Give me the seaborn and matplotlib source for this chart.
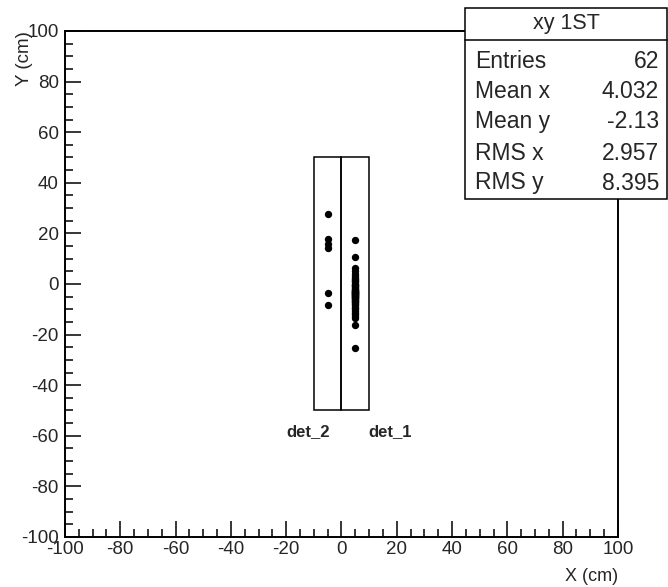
import matplotlib
matplotlib.use("Agg")
import matplotlib.pyplot as plt
import seaborn as sns
import pandas as pd
from matplotlib.patches import Rectangle
from matplotlib.ticker import MultipleLocator

# Hit positions (cm) recorded in each detector
det2_x = -5.0
det2_y = [27.6, 17.7, 16.0, 14.3, -3.4, -8.4]
det1_x = 5.0
det1_y = [17.4, 10.8, 6.5, 5.2, 4.0, 3.1, 2.4, 1.8, 1.5, 1.2, 0.6, 0.1,
          -0.4, -0.5, -0.9, -1.3, -1.7, -2.0, -2.3, -2.5, -2.6, -2.9,
          -3.0, -3.1, -3.3, -3.5, -3.7, -3.9, -4.0, -4.1, -4.3, -4.5,
          -4.7, -4.9, -5.1, -5.3, -5.5, -5.7, -6.0, -6.3, -6.6, -6.9,
          -7.2, -7.6, -8.0, -8.4, -8.9, -9.4, -10.0, -10.6, -11.3, -12.0,
          -12.8, -13.6, -16.3, -25.2]

# Detector outlines: name, x range, y range
det_names = ["det_1", "det_2"]
det_xmin = [0.0, -10.0]
det_xmax = [10.0, 0.0]
det_ymin = [-50.0, -50.0]
det_ymax = [50.0, 50.0]
det_label_x = [17.5, -12.0]
det_label_y = [-58.5, -58.5]

# Statistics panel
stats_title = "xy 1ST"
stats_names = ["Entries", "Mean x", "Mean y", "RMS x", "RMS y"]
stats_values = ["62", "4.032", "-2.13", "2.957", "8.395"]

df = pd.DataFrame({
    "x": [det2_x] * len(det2_y) + [det1_x] * len(det1_y),
    "y": det2_y + det1_y,
})

sns.set_style("white")
plt.rcParams["font.family"] = ["Liberation Sans", "DejaVu Sans"]
plt.rcParams["axes.unicode_minus"] = False

fig = plt.figure(figsize=(6.68, 5.87), dpi=100)
ax = fig.add_axes([0.0973, 0.0852, 0.8278, 0.862])

sns.scatterplot(data=df, x="x", y="y", ax=ax, color="black", s=28,
                edgecolor="black", linewidth=0, zorder=3)

for x0, x1, y0, y1 in zip(det_xmin, det_xmax, det_ymin, det_ymax):
    ax.add_patch(Rectangle((x0, y0), x1 - x0, y1 - y0, fill=False,
                           edgecolor="black", linewidth=1.1, zorder=2))
for name, lx, ly in zip(det_names, det_label_x, det_label_y):
    ax.text(lx, ly, name, ha="center", va="center", fontsize=12,
            fontweight="bold")

ax.set_xlim(-100, 100)
ax.set_ylim(-100, 100)
ax.xaxis.set_major_locator(MultipleLocator(20))
ax.xaxis.set_minor_locator(MultipleLocator(5))
ax.yaxis.set_major_locator(MultipleLocator(20))
ax.yaxis.set_minor_locator(MultipleLocator(5))
ax.tick_params(which="both", direction="in", bottom=True, left=True,
               top=False, right=False, color="black", width=1.1)
ax.tick_params(which="major", length=11.5, labelsize=13.5)
ax.tick_params(which="minor", length=5.5)
ax.tick_params(axis="x", which="major", pad=3)
ax.tick_params(axis="y", which="major", pad=4.5)
for sp in ax.spines.values():
    sp.set_linewidth(1.4)
    sp.set_color("black")

ax.set_xlabel("X (cm)", fontsize=13, loc="right")
ax.xaxis.set_label_coords(1.0, -0.062)
ax.set_ylabel("Y (cm)", fontsize=13.5, loc="top")
ax.yaxis.set_label_coords(-0.058, 1.0)

# Statistics box in the top-right corner
bx0, bx1 = 465 / 668, 667 / 668
by0, by1 = 1 - 199 / 587, 1 - 8 / 587
ysep = 1 - 40 / 587
fig.patches.append(Rectangle((bx0, by0), bx1 - bx0, by1 - by0,
                             transform=fig.transFigure, facecolor="white",
                             edgecolor="black", linewidth=1.1, zorder=5))
fig.add_artist(plt.Line2D([bx0, bx1], [ysep, ysep], transform=fig.transFigure,
                          color="black", linewidth=1.1, zorder=6))
fig.text((bx0 + bx1) / 2, 1 - 23 / 587, stats_title, ha="center",
         va="center", fontsize=15.5, zorder=7)
row_y = [62, 92, 121, 153, 183]
for name, val, ry in zip(stats_names, stats_values, row_y):
    fig.text(475 / 668, 1 - ry / 587, name, ha="left", va="center",
             fontsize=16.5, zorder=7)
    fig.text(659 / 668, 1 - ry / 587, val, ha="right", va="center",
             fontsize=16.5, zorder=7)

fig.savefig("out.png", dpi=100)
